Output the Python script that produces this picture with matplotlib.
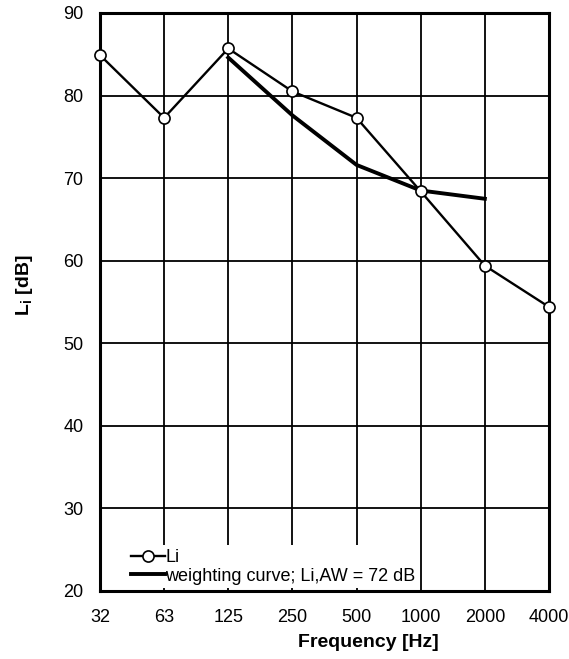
import numpy as np
import matplotlib.pyplot as plt

plt.rcParams['font.family'] = ['Liberation Sans', 'DejaVu Sans']
plt.rcParams['mathtext.fontset'] = 'custom'
plt.rcParams['mathtext.bf'] = 'Liberation Sans:bold'
plt.rcParams['mathtext.rm'] = 'Liberation Sans'

# data
freqs = ['32', '63', '125', '250', '500', '1000', '2000', '4000']
li = [84.9, 77.3, 85.7, 80.5, 77.3, 68.4, 59.4, 54.4]
weight_freqs = ['125', '250', '500', '1000', '2000']
weight = [84.6, 77.6, 71.6, 68.5, 67.5]

x = np.arange(len(freqs))
xw = [freqs.index(f) for f in weight_freqs]

fig = plt.figure(figsize=(5.69, 6.59), dpi=100)
ax = fig.add_axes([0.1757, 0.1032, 0.7891, 0.8771])

ax.plot(x, li, color='black', lw=1.7, marker='o', ms=8,
        mfc='white', mec='black', mew=1.2, label='Li', zorder=4, clip_on=False)
ax.plot(xw, weight, color='black', lw=2.8,
        label='weighting curve; Li,AW = 72 dB', zorder=3)

ax.set_xlim(0, 7)
ax.set_ylim(20, 90)
ax.set_xticks(x)
ax.set_xticklabels(freqs)
ax.set_yticks(np.arange(20, 91, 10))
ax.grid(True, color='black', lw=1.3)
ax.set_axisbelow(True)
ax.tick_params(length=0, labelsize=13)
ax.tick_params(axis='x', pad=13)
ax.tick_params(axis='y', pad=12)
for s in ax.spines.values():
    s.set_linewidth(2.2)

ax.set_xlabel('Frequency [Hz]', fontsize=14, fontweight='bold')
ax.xaxis.set_label_coords(0.597, -0.075)
ax.set_ylabel(r'$\mathbf{L_i}$ [dB]', fontsize=14, fontweight='bold')
ax.yaxis.set_label_coords(-0.145, 0.529)

leg = ax.legend(loc='lower left', bbox_to_anchor=(0.055, 0.0), fontsize=13,
                frameon=True, fancybox=False, edgecolor='none', framealpha=1,
                handlelength=1.9, handletextpad=0.0, borderpad=0.2,
                labelspacing=0.1, borderaxespad=0.15)
leg.set_zorder(2)

fig.savefig('out.png', dpi=100)
